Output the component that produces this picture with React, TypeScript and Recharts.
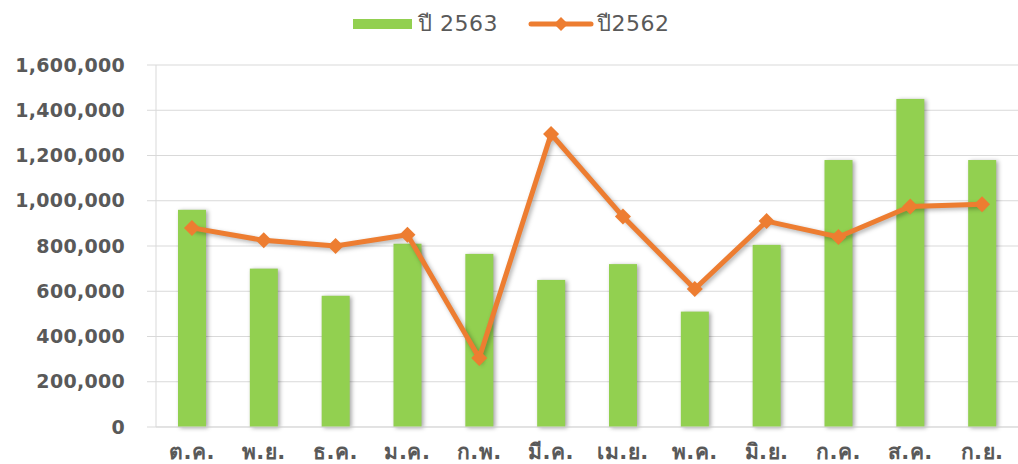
import {
  ComposedChart,
  Bar,
  Line,
  XAxis,
  YAxis,
  CartesianGrid,
  Legend,
} from 'recharts';

// เดือนตามปีงบประมาณ
const months = ['ต.ค.', 'พ.ย.', 'ธ.ค.', 'ม.ค.', 'ก.พ.', 'มี.ค.', 'เม.ย.', 'พ.ค.', 'มิ.ย.', 'ก.ค.', 'ส.ค.', 'ก.ย.'];
const year2563 = [960000, 700000, 580000, 810000, 765000, 650000, 720000, 510000, 805000, 1180000, 1450000, 1180000];
const year2562 = [880000, 825000, 800000, 850000, 305000, 1295000, 930000, 610000, 910000, 840000, 975000, 985000];
const yTicks = [0, 200000, 400000, 600000, 800000, 1000000, 1200000, 1400000, 1600000];

const data = months.map((m, i) => ({ month: m, y2563: year2563[i], y2562: year2562[i] }));

const GREEN = '#92D050';
const ORANGE = '#ED7D31';
const TEXT = '#595959';
const FONT = '"DejaVu Sans", Tahoma, sans-serif';

const fmt = (v: number) => v.toLocaleString('en-US');

const ShadowBar = (props: any) => {
  const { x, y, width, height } = props;
  return (
    <rect
      x={x}
      y={y}
      width={width}
      height={height}
      fill={GREEN}
      style={{ filter: 'drop-shadow(2px 1px 2px rgba(0,0,0,0.35))' }}
    />
  );
};

const Diamond = (props: any) => {
  const { cx, cy, index } = props;
  if (cx == null || cy == null) return null;
  const r = 8;
  return (
    <polygon
      key={index}
      points={`${cx},${cy - r} ${cx + r},${cy} ${cx},${cy + r} ${cx - r},${cy}`}
      fill={ORANGE}
    />
  );
};

const LegendContent = () => (
  <div style={{ display: 'flex', alignItems: 'center', fontFamily: FONT, fontSize: 22, letterSpacing: 0.5, color: TEXT, paddingLeft: 353 }}>
    <span style={{ display: 'inline-block', width: 59, height: 10, background: GREEN, marginRight: 6 }} />
    <span style={{ width: 110 }}>ปี 2563</span>
    <svg width={66} height={14} style={{ marginRight: 3 }}>
      <line x1={3} y1={7} x2={63} y2={7} stroke={ORANGE} strokeWidth={5} strokeLinecap="round" />
      <polygon points="33,0 40,7 33,14 26,7" fill={ORANGE} />
    </svg>
    <span>ปี2562</span>
  </div>
);

export default function App() {
  return (
    <div style={{ position: 'absolute', left: 0, top: 0, width: 1018, height: 464, background: '#fff' }}>
      <ComposedChart
        width={1018}
        height={464}
        data={data}
        margin={{ top: 65, right: 0, left: 0, bottom: 0 }}
      >
        <CartesianGrid vertical={false} stroke="#d9d9d9" />
        <XAxis
          dataKey="month"
          height={37}
          axisLine={{ stroke: '#d9d9d9' }}
          tickLine={false}
          tickMargin={11}
          interval={0}
          tick={{ fill: TEXT, fontSize: 21, fontWeight: 'bold', fontFamily: FONT, letterSpacing: 0.5 }}
        />
        <YAxis
          width={156}
          domain={[0, 1600000]}
          ticks={yTicks}
          tickFormatter={fmt}
          tickSize={9}
          tickMargin={22}
          axisLine={{ stroke: '#d9d9d9' }}
          tickLine={{ stroke: '#d9d9d9' }}
          tick={{ fill: TEXT, fontSize: 19, fontWeight: 'bold', fontFamily: FONT, letterSpacing: 0.3 }}
        />
        <Legend
          verticalAlign="middle"
          align="center"
          layout="horizontal"
          wrapperStyle={{ top: 6, left: 0, width: 1018 }}
          content={<LegendContent />}
        />
        <Bar dataKey="y2563" name="ปี 2563" barSize={28} shape={ShadowBar} isAnimationActive={false} />
        <Line
          dataKey="y2562"
          name="ปี2562"
          type="linear"
          stroke={ORANGE}
          strokeWidth={5}
          style={{ filter: 'drop-shadow(2px 2px 2px rgba(0,0,0,0.3))' }}
          dot={Diamond}
          activeDot={false}
          isAnimationActive={false}
        />
      </ComposedChart>
    </div>
  );
}
